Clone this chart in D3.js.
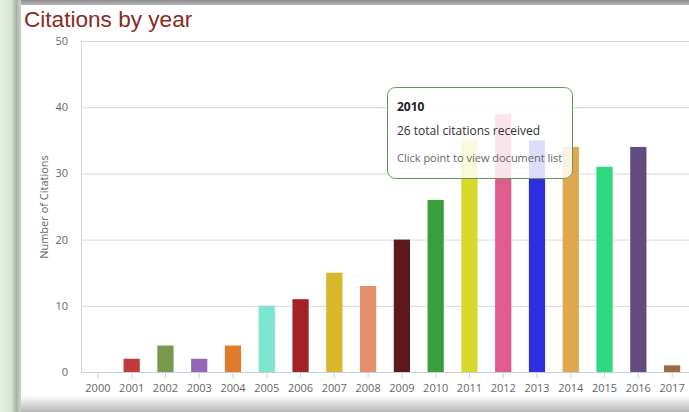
<!DOCTYPE html>
<html><head><meta charset="utf-8">
<script src="https://cdn.jsdelivr.net/npm/d3@7/dist/d3.min.js"></script>
<style>
html,body{margin:0;padding:0;background:#fff;}
svg{display:block;}
</style></head>
<body><svg id="c" width="689" height="412"></svg>
<script>
const years = ["2000","2001","2002","2003","2004","2005","2006","2007","2008","2009","2010","2011","2012","2013","2014","2015","2016","2017"];
const citations = [0,2,4,2,4,10,11,15,13,20,26,35,39,35,34,31,34,1];
const barColors = ["#888888","#c0393b","#77994d","#9467b5","#e07b2b","#7de6d1","#a32226","#d9b72b","#e88f6c","#5c181b","#3a9e3c","#d9d92b","#e05c8e","#2f2fdf","#e0a84e","#2ed982","#634a80","#9e6b45"];
const yTicks = [0,10,20,30,40,50];
const tooltipLines = ["2010","26 total citations received","Click point to view document list"];

const svg = d3.select("#c");
const defs = svg.append("defs");

const gl = defs.append("linearGradient").attr("id","gl").attr("x1","0").attr("x2","1").attr("y1","0").attr("y2","0");
gl.append("stop").attr("offset","0").attr("stop-color","#e4eee2");
gl.append("stop").attr("offset","0.55").attr("stop-color","#d8e4d6");
gl.append("stop").attr("offset","0.78").attr("stop-color","#a9b2a8");
gl.append("stop").attr("offset","1").attr("stop-color","#cdd3cc");
const gt = defs.append("linearGradient").attr("id","gt").attr("x1","0").attr("x2","0").attr("y1","0").attr("y2","1");
gt.append("stop").attr("offset","0").attr("stop-color","#8d8d8d");
gt.append("stop").attr("offset","1").attr("stop-color","#b5b5b5");
const gb = defs.append("linearGradient").attr("id","gb").attr("x1","0").attr("x2","0").attr("y1","0").attr("y2","1");
gb.append("stop").attr("offset","0").attr("stop-color","#ffffff").attr("stop-opacity","0");
gb.append("stop").attr("offset","0.45").attr("stop-color","#e4e4e4");
gb.append("stop").attr("offset","1").attr("stop-color","#b8b8b8");

const plotBottom = 372;

const x = d3.scaleBand().domain(years).range([81, 689]).paddingInner(0.52).paddingOuter(0.26);
const y = d3.scaleLinear().domain([0,50]).range([plotBottom, 41]);

svg.append("g").selectAll("line").data(yTicks).join("line")
  .attr("x1",81).attr("x2",689).attr("y1",d=>y(d)+0.5).attr("y2",d=>y(d)+0.5)
  .attr("stroke","#d8d8d8").attr("stroke-width",1);

svg.append("line").attr("x1",81.5).attr("x2",81.5).attr("y1",41).attr("y2",plotBottom)
  .attr("stroke","#d0d6df");

const yAxis = d3.axisLeft(y).tickValues(yTicks).tickSize(0).tickPadding(13);
const yg = svg.append("g").attr("transform","translate(81,0)").call(yAxis);
yg.select(".domain").remove();
yg.selectAll("text").attr("fill","#666").style("font-family","'Open Sans', sans-serif").style("font-size","11px");

svg.append("g").selectAll("rect").data(years).join("rect")
  .attr("x",(d,i)=>x(d))
  .attr("width",x.bandwidth())
  .attr("y",(d,i)=>y(citations[i]))
  .attr("height",(d,i)=>plotBottom - y(citations[i]))
  .attr("fill",(d,i)=>barColors[i]);

const xAxis = d3.axisBottom(x).tickSizeOuter(0).tickSize(6).tickPadding(6);
const xg = svg.append("g").attr("transform",`translate(0,${plotBottom})`).call(xAxis);
xg.select(".domain").attr("stroke","#c4d0dc").attr("d","M81,0.5H689");
xg.selectAll(".tick line").attr("stroke","#c4d0dc");
xg.selectAll("text").attr("fill","#666").style("font-family","'Open Sans', sans-serif").style("font-size","11px");

svg.append("text").attr("transform","translate(48,207) rotate(-90)").attr("text-anchor","middle")
  .attr("fill","#666").style("font-family","'Open Sans', sans-serif").style("font-size","11px").text("Number of Citations");
svg.append("text").attr("x",385).attr("y",409).attr("text-anchor","middle")
  .attr("fill","#666").style("font-family","'Open Sans', sans-serif").style("font-size","11px").text("Year");

const tt = svg.append("g");
tt.append("rect").attr("x",387.5).attr("y",87.5).attr("width",185).attr("height",91).attr("rx",8)
  .attr("fill","#fff").attr("fill-opacity",0.84).attr("stroke","#5c9c52").attr("stroke-width",1);
tt.append("text").attr("x",397).attr("y",111).attr("fill","#222").style("font-weight","bold")
  .style("font-family","'Open Sans', sans-serif").style("font-size","12px").text(tooltipLines[0]);
tt.append("text").attr("x",397).attr("y",135).attr("fill","#333")
  .style("font-family","'Open Sans', sans-serif").style("font-size","12px").text(tooltipLines[1]);
tt.append("text").attr("x",397).attr("y",162).attr("fill","#666")
  .style("font-family","'Open Sans', sans-serif").style("font-size","11px").text(tooltipLines[2]);

svg.append("text").attr("x",24).attr("y",27).attr("fill","#8b2a22")
  .style("font-family","'Liberation Sans', Arial, sans-serif").style("font-size","22.6px").text("Citations by year");

svg.append("rect").attr("x",0).attr("y",393).attr("width",689).attr("height",19).attr("fill","url(#gb)");
svg.append("rect").attr("x",0).attr("y",0).attr("width",689).attr("height",5).attr("fill","url(#gt)");
svg.append("rect").attr("x",0).attr("y",0).attr("width",21).attr("height",412).attr("fill","url(#gl)");
</script></body></html>
